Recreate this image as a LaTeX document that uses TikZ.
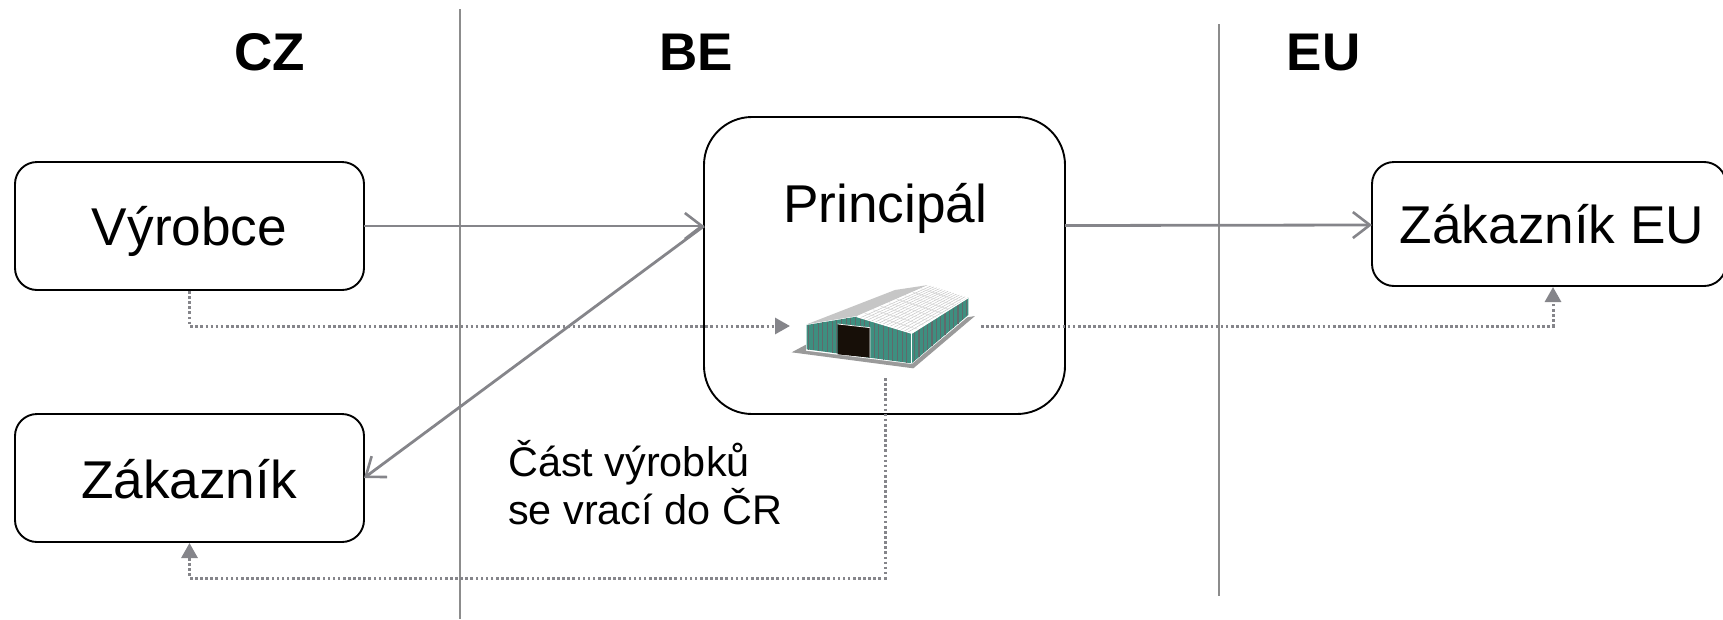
\documentclass[tikz,border=0pt]{standalone}
\usepackage{fontspec}
\setmainfont{Liberation Sans}
\usetikzlibrary{arrows.meta}
\definecolor{linegray}{HTML}{85858A}
\definecolor{divgray}{HTML}{8C8C8C}
\definecolor{wallgreen}{HTML}{3E8F80}
\definecolor{stripegray}{HTML}{5F6A6C}
\definecolor{groundgray}{HTML}{9A9A9A}
\definecolor{roofgray}{HTML}{C6C6C6}
\tikzset{
  x=1pt,y=-1pt,
  boxstyle/.style={draw=black,line width=1.9pt,rounded corners=#1,fill=white,inner sep=0pt,outer sep=0pt},
  lbl/.style={anchor=base,font=\fontsize{53.2}{60}\selectfont,inner sep=0pt},
  head/.style={anchor=base,font=\fontsize{53}{60}\selectfont\bfseries,inner sep=0pt},
  note/.style={anchor=base west,font=\fontsize{41.4}{48}\selectfont,inner sep=0pt},
  divider/.style={draw=divgray,line width=1.6pt},
  flow/.style={draw=linegray,line width=2.8pt,-{Straight Barb[length=17pt,width=26pt,line width=2.6pt]}},
  goods/.style={draw=linegray,line width=3pt,dash pattern=on 2.6pt off 2.5pt},
  goodsarrow/.style={goods,-{Triangle[length=15pt,width=16pt,fill=linegray,sep=0pt]}},
}
\begin{document}
\begin{tikzpicture}
\useasboundingbox (0,0) rectangle (1723,619);
% dividers
\coordinate (d1a) at (460,9); \coordinate (d1b) at (460,619);
\coordinate (d2a) at (1219,24); \coordinate (d2b) at (1219,596);
\draw[divider] (d1a) -- (d1b);
\draw[divider] (d2a) -- (d2b);
% headers
\node[head] (cz) at (269.5,70) {CZ};
\node[head] (be) at (696.5,70) {BE};
\node[head] (eu) at (1323.5,70) {EU};
% boxes
\node[boxstyle=22pt,minimum width=349pt,minimum height=128pt] (vyrobce) at (189.5,226) {};
\node[boxstyle=22pt,minimum width=349pt,minimum height=128pt] (zakaznik) at (189.5,478) {};
\node[boxstyle=48pt,minimum width=361pt,minimum height=297pt] (principal) at (884.5,265.5) {};
\node[boxstyle=22pt,minimum width=354pt,minimum height=124pt] (zakeu) at (1549,224) {};
% labels
\node[lbl] (tv) at (189.5,245) {Výrobce};
\node[lbl] (tz) at (189,498) {Zákazník};
\node[lbl] (tp) at (885,222) {Principál};
\node[lbl] (te) at (1552,243) {Zákazník EU};
\node[note] (n1) at (508,476) {Část výrobků};
\node[note] (n2) at (508,524) {se vrací do ČR};
% warehouse
\begin{scope}[shift={(770,260)},x=0.3333pt,y=-0.3333pt]
  \fill[groundgray] (65,277) -- (108,254) -- (615,168) -- (430,325) -- cycle;
  \fill[white] (108,272) -- (425,312) -- (596,168) -- (596,112) -- (108,190) -- cycle;
  \fill[wallgreen] (110,195) -- (260,170) -- (425,220) -- (425,310) -- (110,268) -- cycle;
  \foreach \i in {0,...,22}{
    \pgfmathsetmacro{\xx}{116+\i*14}
    \pgfmathsetmacro{\yt}{\xx<260 ? 195-(\xx-110)/150*25 : 170+(\xx-260)/165*50}
    \pgfmathsetmacro{\yb}{268+(\xx-110)/315*42}
    \draw[stripegray,line width=0.9pt] (\xx,\yt) -- (\xx,\yb);
  }
  \fill[wallgreen] (425,220) -- (595,113) -- (595,165) -- (425,310) -- cycle;
  \foreach \i in {0,...,12}{
    \pgfmathsetmacro{\xx}{434+\i*13}
    \pgfmathsetmacro{\yt}{220-(\xx-425)/170*107}
    \pgfmathsetmacro{\yb}{310-(\xx-425)/170*145}
    \draw[stripegray,line width=1.1pt] (\xx,\yt) -- (\xx,\yb);
  }
  \fill[roofgray] (110,193) -- (375,90) -- (475,75) -- (260,168) -- cycle;
  \fill[white] (260,170) -- (475,75) -- (595,113) -- (425,220) -- cycle;
  \begin{scope}
    \clip (260,170) -- (475,75) -- (595,113) -- (425,220) -- cycle;
    \foreach \i in {1,...,14}{
      \draw[black!22,line width=0.5pt] ({260+\i*11},{170+\i*3.3}) -- ({475+\i*8.5},{75+\i*2.7});
    }
    \foreach \i in {1,...,8}{
      \draw[black!15,line width=0.5pt] ({260+\i*24},{170-\i*10.5}) -- ({425+\i*19},{220-\i*11.9});
    }
  \end{scope}
  \draw[white,line width=1pt] (260,170) -- (425,220) -- (595,113);
  \draw[white,line width=1pt] (425,220) -- (425,310);
  \fill[black!88!brown] (203,192) -- (300,203) -- (300,293) -- (203,283) -- cycle;
  \draw[white,line width=0.7pt] (203,192) -- (300,203) -- (300,293);
\end{scope}
% connector anchors
\coordinate (pin) at (principal.west |- vyrobce.east);
\coordinate (pout) at (1065,225.5);
\coordinate (ein) at (1372,225);
\coordinate (wleft) at (790,326);
\coordinate (wright) at (981,326);
\coordinate (wbottom) at (885,378);
\coordinate (vdown) at (189.5,291);
\coordinate (zup) at (189.5,543);
\coordinate (eup) at (1553,287);
% solid flows
\draw[flow] (vyrobce.east) -- (pin);
\draw[flow] (pin) -- (zakaznik.east);
\draw[flow] (pout) -- (ein);
% goods flows
\draw[goodsarrow] (vdown) |- (wleft);
\draw[goodsarrow] (wright) -| (eup);
\draw[goodsarrow] (wbottom) |- (189.5,578) -- (zup);
\end{tikzpicture}
\end{document}
